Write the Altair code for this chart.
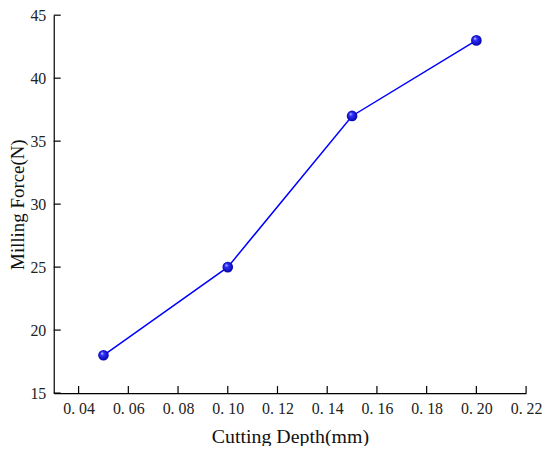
import altair as alt
import pandas as pd

depth = [0.05, 0.10, 0.15, 0.20]
force = [18, 25, 37, 43]
x_ticks = [0.04, 0.06, 0.08, 0.10, 0.12, 0.14, 0.16, 0.18, 0.20, 0.22]
y_ticks = [15, 20, 25, 30, 35, 40, 45]

df = pd.DataFrame({"depth": depth, "force": force})
xt = pd.DataFrame({"v": x_ticks})
yt = pd.DataFrame({"v": y_ticks})

W, H = 475, 380
FONT = "Liberation Serif"

xscale = alt.Scale(domain=[0.03, 0.22], nice=False, zero=False)
yscale = alt.Scale(domain=[15, 45], nice=False, zero=False)

xaxis = alt.Axis(values=x_ticks, title="Cutting Depth(mm)", grid=False, ticks=False,
                 labelExpr="replace(format(datum.value, '.2f'), '.', '. ')",
                 labelFont=FONT, labelFontSize=16, labelColor="#222", labelPadding=8,
                 titleFont=FONT, titleFontSize=20, titleFontWeight="normal", titleColor="#111",
                 titlePadding=10, domainColor="#000", domainWidth=1.2, labelFlush=False)
yaxis = alt.Axis(values=y_ticks, title="Milling Force(N)", grid=False, ticks=False,
                 labelFont=FONT, labelFontSize=16, labelColor="#222", labelPadding=8,
                 titleFont=FONT, titleFontSize=19, titleFontWeight="normal", titleColor="#111",
                 titlePadding=2, domainColor="#000", domainWidth=1.2, labelFlush=False)

base = alt.Chart(df)

line = base.mark_line(color="#0000FF", strokeWidth=1.5).encode(
    x=alt.X("depth:Q", scale=xscale, axis=xaxis),
    y=alt.Y("force:Q", scale=yscale, axis=yaxis),
)

sphere = alt.RadialGradient(
    gradient="radial",
    stops=[alt.GradientStop(offset=0, color="#e0e0ff"),
           alt.GradientStop(offset=0.3, color="#3030ff"),
           alt.GradientStop(offset=1, color="#0000a0")],
    x1=0.35, y1=0.3, r1=0, x2=0.5, y2=0.5, r2=0.55,
)
pts = base.mark_circle(size=115, opacity=1, fill=sphere).encode(
    x=alt.X("depth:Q", scale=xscale),
    y=alt.Y("force:Q", scale=yscale),
)

xtick_marks = alt.Chart(xt).mark_rule(color="#000", strokeWidth=1.2).encode(
    x=alt.X("v:Q", scale=xscale),
    y=alt.value(H), y2=alt.value(H - 7),
)
ytick_marks = alt.Chart(yt).mark_rule(color="#000", strokeWidth=1.2).encode(
    y=alt.Y("v:Q", scale=yscale),
    x=alt.value(0), x2=alt.value(7),
)

chart = alt.layer(line, xtick_marks, ytick_marks, pts).properties(
    width=W, height=H,
    autosize=alt.AutoSizeParams(type="none"),
    padding={"left": 46, "top": 6, "right": 16, "bottom": 52},
    background="white",
).configure_view(stroke=None)

chart.save("out.html", embed_options={"renderer": "svg", "actions": False})
